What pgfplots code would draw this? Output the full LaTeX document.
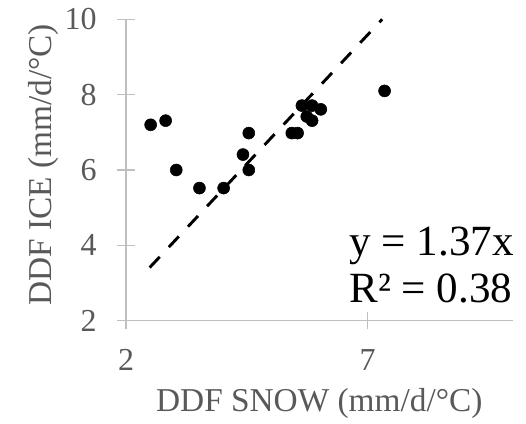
\documentclass[border=0pt]{standalone}
\usepackage{fontspec}
\setmainfont{Liberation Serif}
\usepackage{pgfplots}
\pgfplotsset{compat=1.18}
\definecolor{axisgray}{HTML}{BFBFBF}
\definecolor{txtgray}{HTML}{595959}

\begin{document}
\begin{tikzpicture}
\begin{axis}[
    scale only axis, width=290pt, height=226pt,
    xmin=2, xmax=10, ymin=2, ymax=10,
    xtick={2,7}, ytick={2,4,6,8,10},
    axis lines=left,
    axis line style={draw=axisgray, line width=1.1pt, -},
    tick style={draw=axisgray, line width=1.1pt},
    tick align=center, major tick length=13pt,
    /pgf/number format/assume math mode=true,
    ticklabel style={font=\fontsize{24}{28}\selectfont, text=txtgray},
    yticklabel style={anchor=east, xshift=-12pt},
    xticklabel style={anchor=north, yshift=-11.5pt},
    label style={font=\fontsize{25}{30}\selectfont, text=txtgray},
    xlabel={DDF SNOW (mm/d/°C)},
    ylabel={DDF ICE (mm/d/°C)},
    xlabel style={at={([yshift=-68.25pt]rel axis cs:0.5,0)}, anchor=base},
    ylabel style={at={([xshift=-55.7pt]rel axis cs:0,0.517)}, anchor=base},
    clip=false,
]
\addplot[only marks, mark=*, mark size=4.5pt, black] coordinates {
    (2.51,7.20) (2.82,7.31) (3.04,6.00) (3.52,5.52) (4.02,5.52)
    (4.42,6.41) (4.54,6.98) (4.54,6.00) (5.43,6.98) (5.55,6.98)
    (5.64,7.71) (5.85,7.71) (5.74,7.42) (5.85,7.31) (6.03,7.61)
    (7.35,8.10)
};
\addplot[black, line width=2.2pt, dash pattern=on 11pt off 10pt] coordinates {
    (2.49,3.41) (7.30,10.0)
};
\node[anchor=base west, inner sep=0pt, font=\fontsize{32.3}{39}\selectfont]
    at (axis cs:6.62,3.74) {y = 1.37x};
\node[anchor=base west, inner sep=0pt, font=\fontsize{32.3}{39}\selectfont]
    at (axis cs:6.62,2.49) {R² = 0.38};
\end{axis}
\path ([xshift=-94.5pt,yshift=-76.7pt]current axis.south west)
    rectangle ([xshift=10pt,yshift=14.5pt]current axis.north east);
\end{tikzpicture}
\end{document}
